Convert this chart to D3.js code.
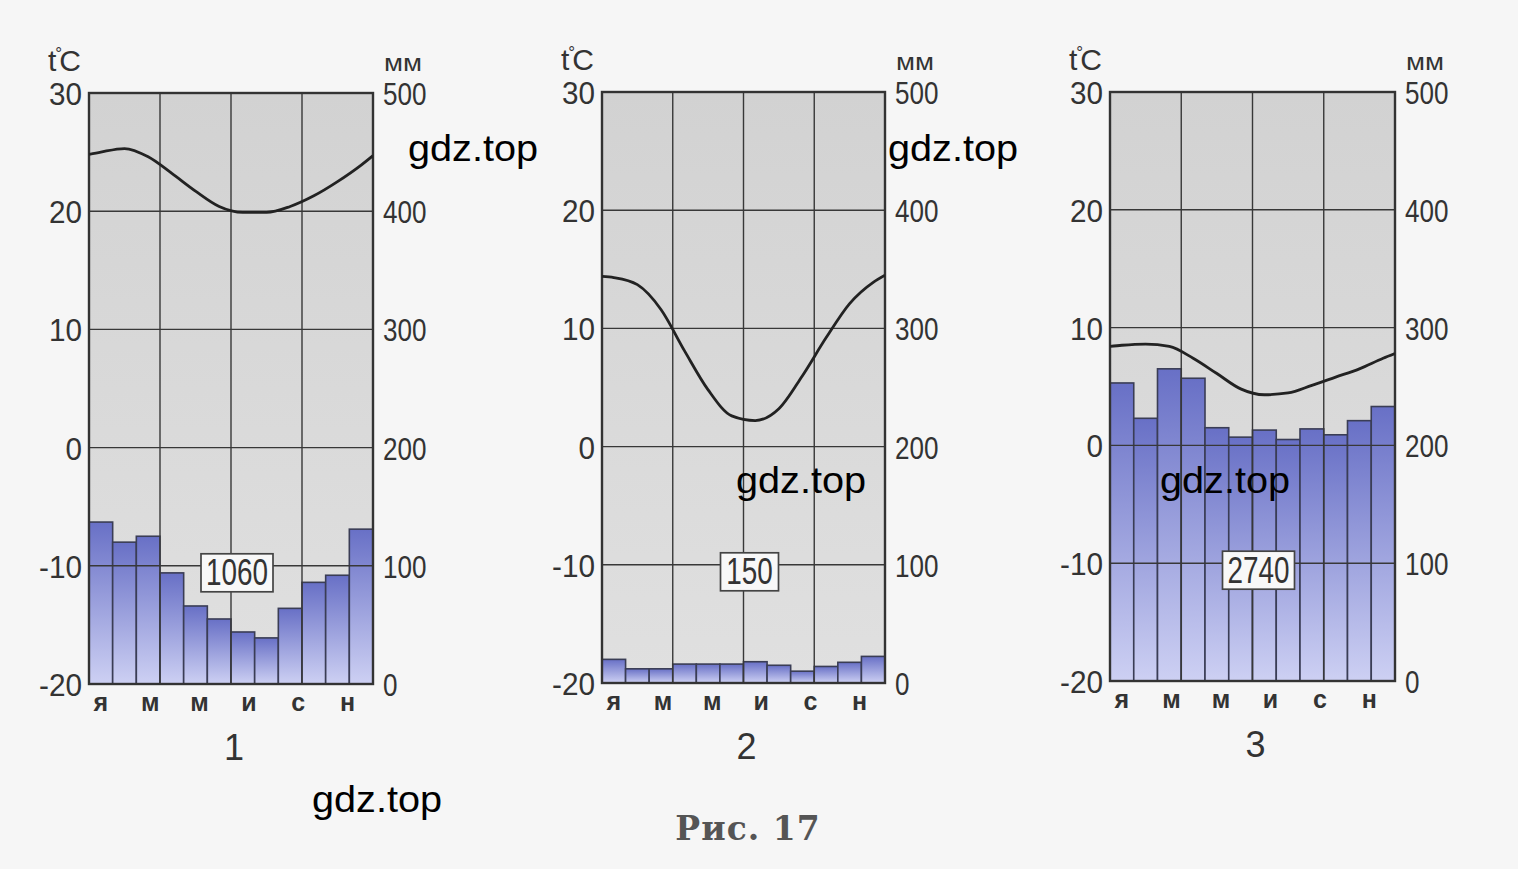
<!DOCTYPE html>
<html>
<head>
<meta charset="utf-8">
<script src="https://cdn.jsdelivr.net/npm/d3@7"></script>
<style>
  html, body { margin: 0; padding: 0; background: #f6f6f6; }
  svg { display: block; }
</style>
</head>
<body>
<svg id="chart" width="1518" height="869"></svg>
<script>
// ---------- DATA ----------
const monthTickLabels = ["я", "м", "м", "и", "с", "н"];
const monthTickIndex = [0, 2, 4, 6, 8, 10];
const tempTicks = [-20, -10, 0, 10, 20, 30];
const precipTicks = [0, 100, 200, 300, 400, 500];
const chartNumbers = ["1", "2", "3"];
const totals = ["1060", "150", "2740"];

const precip1 = [137, 120, 125, 94, 66, 55, 44, 39, 64, 86, 92, 131];
const temp1 = [25.0, 25.3, 24.6, 23.2, 21.7, 20.4, 19.9, 19.9, 20.4, 21.3, 22.5, 23.9];
const tempEdges1 = [24.8, 24.7];

const precip2 = [20, 12, 12, 16, 16, 16, 18, 15, 10, 14, 17.5, 22.5];
const temp2 = [14.3, 13.7, 11.6, 8.1, 4.8, 2.6, 2.2, 3.2, 6.0, 9.2, 12.1, 13.9];
const tempEdges2 = [14.4, 14.5];

const precip3 = [253, 223, 265, 257, 215, 207, 213, 205, 214, 209, 221, 233];
const temp3 = [8.5, 8.6, 8.4, 7.4, 6.1, 4.8, 4.3, 4.45, 5.1, 5.8, 6.5, 7.4];
const tempEdges3 = [8.4, 7.8];

const caption = "Рис. 17";
const watermark = "gdz.top";

// ---------- LAYOUT ----------
const panels = [
  { left: 89,  top: 93, w: 284, h: 591, precip: precip1, temp: temp1, edges: tempEdges1 },
  { left: 602, top: 92, w: 283, h: 591, precip: precip2, temp: temp2, edges: tempEdges2 },
  { left: 1110, top: 92, w: 285, h: 589, precip: precip3, temp: temp3, edges: tempEdges3 }
];
const watermarkPos = [[408, 149], [888, 149], [736, 481], [1160, 481], [312, 800]];

const svg = d3.select("#chart");
const defs = svg.append("defs");

const bg = defs.append("linearGradient").attr("id", "plotbg")
  .attr("x1", 0).attr("y1", 0).attr("x2", 0).attr("y2", 1);
bg.append("stop").attr("offset", "0%").attr("stop-color", "#d2d2d2");
bg.append("stop").attr("offset", "100%").attr("stop-color", "#e0e0e0");

const barG = defs.append("linearGradient").attr("id", "bargrad")
  .attr("x1", 0).attr("y1", 0).attr("x2", 0).attr("y2", 1);
barG.append("stop").attr("offset", "0%").attr("stop-color", "#6870c6");
barG.append("stop").attr("offset", "100%").attr("stop-color", "#cdd0f3");

const sans = "'Liberation Sans', Arial, sans-serif";
const ink = "#333";

panels.forEach((p, k) => {
  const g = svg.append("g");
  const x = d3.scaleBand().domain(d3.range(12)).range([p.left, p.left + p.w]).padding(0);
  const yT = d3.scaleLinear().domain([-20, 30]).range([p.top + p.h, p.top]);
  const yP = d3.scaleLinear().domain([0, 500]).range([p.top + p.h, p.top]);

  defs.append("clipPath").attr("id", "clip" + k)
    .append("rect").attr("x", p.left).attr("y", p.top).attr("width", p.w).attr("height", p.h);

  // plot background
  g.append("rect").attr("x", p.left).attr("y", p.top).attr("width", p.w).attr("height", p.h)
    .attr("fill", "url(#plotbg)");

  // bars
  g.append("g").selectAll("rect").data(p.precip).join("rect")
    .attr("x", (d, i) => x(i))
    .attr("y", d => yP(d))
    .attr("width", x.bandwidth())
    .attr("height", d => yP(0) - yP(d))
    .attr("fill", "url(#bargrad)")
    .attr("stroke", "#3a3d55").attr("stroke-width", 1.6);

  // grid: horizontal
  g.append("g").selectAll("line").data(tempTicks).join("line")
    .attr("x1", p.left).attr("x2", p.left + p.w)
    .attr("y1", d => yT(d)).attr("y2", d => yT(d))
    .attr("stroke", "#383838").attr("stroke-width", 1.4);
  // grid: vertical (quarters)
  g.append("g").selectAll("line").data([3, 6, 9]).join("line")
    .attr("x1", d => x(d)).attr("x2", d => x(d))
    .attr("y1", p.top).attr("y2", p.top + p.h)
    .attr("stroke", "#383838").attr("stroke-width", 1.4);

  // frame
  g.append("rect").attr("x", p.left).attr("y", p.top).attr("width", p.w).attr("height", p.h)
    .attr("fill", "none").attr("stroke", "#333").attr("stroke-width", 2.4);

  // temperature curve
  const pts = [[p.left, p.edges[0]]]
    .concat(p.temp.map((t, i) => [x(i) + x.bandwidth() / 2, t]))
    .concat([[p.left + p.w, p.edges[1]]]);
  const line = d3.line().x(d => d[0]).y(d => yT(d[1])).curve(d3.curveMonotoneX);
  g.append("path").attr("d", line(pts)).attr("fill", "none")
    .attr("stroke", "#222").attr("stroke-width", 2.8).attr("clip-path", "url(#clip" + k + ")");

  // total label box
  const cx = p.left + p.w / 2 + 6;
  const cy = yT(-10) + 7;
  const bw = totals[k].length === 3 ? 58 : 72;
  g.append("rect").attr("x", cx - bw / 2).attr("y", cy - 19).attr("width", bw).attr("height", 38)
    .attr("fill", "#f8f8f8").attr("stroke", "#444").attr("stroke-width", 1.7);
  g.append("text").attr("x", cx).attr("y", cy + 12.5)
    .attr("text-anchor", "middle")
    .attr("font-family", sans).attr("font-size", 36).attr("fill", ink)
    .attr("textLength", totals[k].length * 15.5).attr("lengthAdjust", "spacingAndGlyphs")
    .text(totals[k]);

  // left axis labels
  g.append("g").selectAll("text").data(tempTicks).join("text")
    .attr("x", p.left - 7).attr("y", d => yT(d) + 12)
    .attr("text-anchor", "end")
    .attr("font-family", sans).attr("font-size", 32).attr("fill", ink)
    .attr("textLength", d => String(Math.abs(d)).length * 16.5 + (d < 0 ? 10 : 0))
    .attr("lengthAdjust", "spacingAndGlyphs")
    .text(d => d < 0 ? "-" + Math.abs(d) : d);
  // right axis labels
  g.append("g").selectAll("text").data(precipTicks).join("text")
    .attr("x", p.left + p.w + 10).attr("y", d => yP(d) + 12)
    .attr("text-anchor", "start")
    .attr("font-family", sans).attr("font-size", 32).attr("fill", ink)
    .attr("textLength", d => String(d).length * 14.5).attr("lengthAdjust", "spacingAndGlyphs")
    .text(d => d);

  // axis units
  const tl = g.append("text").attr("x", p.left - 41).attr("y", p.top - 22)
    .attr("font-family", sans).attr("font-size", 30).attr("fill", ink);
  tl.append("tspan").text("t");
  tl.append("tspan").attr("font-size", 17).attr("dy", -12).attr("dx", -1).text("°");
  tl.append("tspan").attr("dy", 12).attr("dx", -3).text("C");
  g.append("text").attr("x", p.left + p.w + 11).attr("y", p.top - 22)
    .attr("font-family", sans).attr("font-size", 23)
    .attr("textLength", 38).attr("lengthAdjust", "spacingAndGlyphs")
    .attr("fill", ink).text("мм");

  // month labels
  g.append("g").selectAll("text").data(monthTickIndex).join("text")
    .attr("x", (d, i) => x(d) + x.bandwidth() / 2 + i * 2)
    .attr("y", p.top + p.h + 27)
    .attr("text-anchor", "middle")
    .attr("font-family", sans).attr("font-weight", "bold")
    .attr("font-size", 25).attr("fill", ink)
    .text((d, i) => monthTickLabels[i]);

  // chart number
  g.append("text").attr("x", p.left + p.w / 2 + 3).attr("y", p.top + p.h + 76)
    .attr("text-anchor", "middle")
    .attr("font-family", sans).attr("font-size", 36).attr("fill", ink)
    .text(chartNumbers[k]);
});

// caption
svg.append("text").attr("x", 748).attr("y", 840).attr("text-anchor", "middle")
  .attr("font-family", "'DejaVu Serif', 'Liberation Serif', serif").attr("font-weight", "bold")
  .attr("font-size", 33).attr("fill", "#555").attr("letter-spacing", 1)
  .text(caption);

// watermarks
svg.append("g").selectAll("text").data(watermarkPos).join("text")
  .attr("x", d => d[0]).attr("y", d => d[1] + 12)
  .attr("font-family", sans).attr("font-size", 37)
  .attr("textLength", 130).attr("lengthAdjust", "spacingAndGlyphs")
  .attr("fill", "#000").text(watermark);
</script>
</body>
</html>
